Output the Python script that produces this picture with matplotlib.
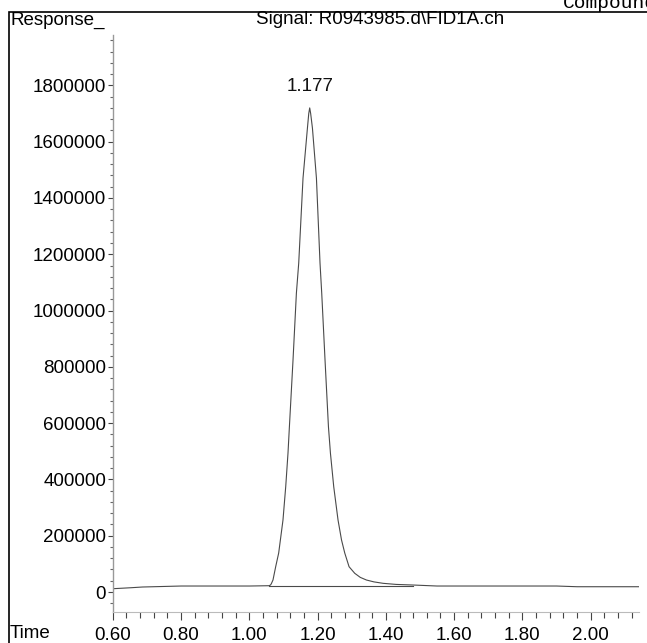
import matplotlib
matplotlib.use("Agg")
import matplotlib.pyplot as plt
from matplotlib.patches import Rectangle
from matplotlib.ticker import MultipleLocator, FormatStrFormatter

# Signal points (time in min, response in counts)
time = [0.600, 0.654, 0.687, 0.800, 1.000, 1.0575, 1.0615, 1.0639, 1.0692, 1.0771, 1.0859,
        1.0985, 1.1065, 1.1132, 1.1173, 1.1279, 1.1378, 1.1446, 1.1572, 1.1701, 1.1740, 1.1768,
        1.1796, 1.1848, 1.1965, 1.2070, 1.2120, 1.2217, 1.2317, 1.2375, 1.2472, 1.2598, 1.2700,
        1.2795, 1.2921, 1.3088, 1.3250, 1.3431, 1.3650, 1.3918, 1.4300, 1.4789, 1.550, 1.900,
        1.960, 2.142]
response = [11700, 15300, 17800, 21300, 21300, 22400, 24500, 28400, 42600, 89900, 138500,
            255700, 374000, 493700, 587100, 824000, 1062000, 1168600, 1470500, 1648000, 1700000, 1720000,
            1700000, 1648000, 1470500, 1168600, 1062000, 824000, 587100, 493700, 374000, 255700, 185000,
            138500, 89900, 66400, 52000, 42600, 36000, 30900, 27000, 24900, 21300, 21300,
            18800, 18800]

# integration baseline under the peak
base_time = [1.0575, 1.4789]
base_resp = [21300, 21300]

peak_label = "1.177"
peak_time = 1.177
peak_height = 1720000

W, H = 647, 643
fig = plt.figure(figsize=(W / 100, H / 100), dpi=100)
plt.rcParams['font.family'] = ['Liberation Sans', 'DejaVu Sans']

# axes box in pixels
left, right, top, bottom = 112.5, 639, 35, 612
ax = fig.add_axes([left / W, (H - bottom) / H, (right - left) / W, (bottom - top) / H])

ax.plot(time, response, color="#4a4a4a", lw=0.8)
ax.plot(base_time, base_resp, color="#4a4a4a", lw=0.8)
ax.text(peak_time, peak_height + 45000, peak_label, ha="center", va="bottom", fontsize=13.5, color="#111111")

ax.set_xlim(0.599, 2.1416)
ax.set_ylim(-71000, 1979000)

# spines: only left and bottom, in gray
for s in ["top", "right"]:
    ax.spines[s].set_visible(False)
ax.spines["left"].set_color("#999999")
ax.spines["bottom"].set_color("#bbbbbb")
ax.spines["left"].set_linewidth(1.0)
ax.spines["bottom"].set_linewidth(0.8)

ax.xaxis.set_major_locator(MultipleLocator(0.2))
ax.xaxis.set_minor_locator(MultipleLocator(0.04))
ax.xaxis.set_major_formatter(FormatStrFormatter("%.2f"))
ax.yaxis.set_major_locator(MultipleLocator(200000))
ax.yaxis.set_minor_locator(MultipleLocator(40000))
ax.yaxis.set_major_formatter(FormatStrFormatter("%d"))

ax.tick_params(axis="x", which="major", length=6, width=0.8, color="#444444", labelsize=13.5, pad=5)
ax.tick_params(axis="x", which="minor", length=4.5, width=0.8, color="#444444")
ax.tick_params(axis="y", which="major", length=3.5, width=0.8, color="#444444", labelsize=13.5, pad=1)
ax.tick_params(axis="y", which="minor", length=2, width=0.8, color="#666666")

# header texts and frame
fig.text(10 / W, 1 - 20 / H, "Response_", ha="left", va="center", fontsize=13.5)
fig.text(380 / W, 1 - 20 / H, "Signal: R0943985.d\\FID1A.ch", ha="center", va="center", fontsize=13.5)
fig.text(10 / W, 1 - 634 / H, "Time", ha="left", va="center", fontsize=13.5)
# page heading, cut by the top edge like in the original export
fig.text(563 / W, 1 - 8 / H, "Compound", ha="left", va="baseline", fontsize=14,
         family="Liberation Mono")

fig.patches.append(Rectangle((8.5 / W, -0.1), 2.0, 1 - 12.5 / H + 0.1, transform=fig.transFigure,
                             fill=False, edgecolor="black", lw=1.2))

fig.savefig("out.png", dpi=100)
